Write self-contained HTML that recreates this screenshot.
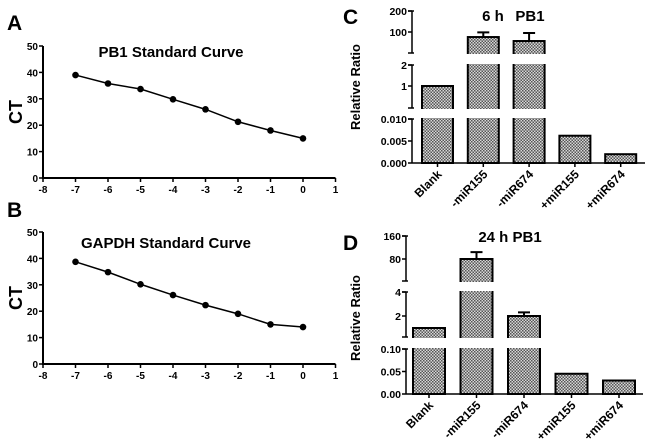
<!DOCTYPE html>
<html><head><meta charset="utf-8"><style>
html,body{margin:0;padding:0;background:#fff}
svg{display:block;font-family:"Liberation Sans",Arial,sans-serif}
</style></head><body>
<svg id="fig" width="650" height="447" viewBox="0 0 650 447" xmlns="http://www.w3.org/2000/svg">
<defs>
<pattern id="hatch" width="3" height="3" patternUnits="userSpaceOnUse">
<rect width="3" height="3" fill="#d8d8d8"/>
<rect width="1.5" height="1.5" fill="#555"/>
<rect x="1.5" y="1.5" width="1.5" height="1.5" fill="#555"/>
</pattern>
</defs>
<text x="7" y="30" font-size="21" font-weight="bold">A</text>
<text x="7" y="217" font-size="21" font-weight="bold">B</text>
<text x="343" y="24" font-size="21" font-weight="bold">C</text>
<text x="343" y="250" font-size="21" font-weight="bold">D</text>
<g id="pa"></g>
<g id="pb"></g>
<g id="pc"></g>
<g id="pd"></g>
</svg>
<script>
const xCats = [-7,-6,-5,-4,-3,-2,-1,0];
const ctPB1 = [39,35.8,33.7,29.8,26,21.3,18,15];
const ctGAPDH = [38.7,34.8,30.2,26.1,22.3,19,15,14];
const xTicks = [-8,-7,-6,-5,-4,-3,-2,-1,0,1];
const yTicks = [0,10,20,30,40,50];
const barCats = ["Blank","-miR155","-miR674","+miR155","+miR674"];
const ratio6h = [1,76,57,0.0062,0.002];
const err6h = [0,98,95,0,0];
const ratio24h = [1,80,2,0.045,0.03];
const err24h = [0,104,2.3,0,0];
const ticks6h = [[0,0.005,0.010],[1,2],[100,200]];
const tickLabels6h = [["0.000","0.005","0.010"],["1","2"],["100","200"]];
const ticks24h = [[0,0.05,0.10],[2,4],[80,160]];
const tickLabels24h = [["0.00","0.05","0.10"],["2","4"],["80","160"]];
const NS="http://www.w3.org/2000/svg";
function mk(p,tag,a){const e=document.createElementNS(NS,tag);for(const k in a)e.setAttribute(k,a[k]);p.appendChild(e);return e;}
function lineChart(g,vals,title,y0,y50,tx,ty){
  const X=v=>43+(v+8)*32.5, Y=v=>y0+(y50-y0)*v/50;
  let e=mk(g,'line',{x1:43,y1:y50,x2:43,y2:y0+1,stroke:'#000','stroke-width':2});
  
  
  e=mk(g,'line',{x1:42,y1:y0,x2:X(1),y2:y0,stroke:'#000','stroke-width':2});
  
  
  yTicks.forEach(t=>{mk(g,'line',{x1:39,y1:Y(t),x2:43,y2:Y(t),stroke:'#000','stroke-width':1.5});
    e=mk(g,'text',{x:38,y:Y(t)+4,'font-size':10,'font-weight':'bold','text-anchor':'end'});e.textContent=t;
    
    });
  xTicks.forEach(t=>{mk(g,'line',{x1:X(t),y1:y0,x2:X(t),y2:y0+4,stroke:'#000','stroke-width':1.5});
    e=mk(g,'text',{x:X(t),y:y0+15,'font-size':10,'font-weight':'bold','text-anchor':'middle'});e.textContent=t;
    
    });
  e=mk(g,'polyline',{points:xCats.map((c,i)=>X(c)+','+Y(vals[i])).join(' '),fill:'none',stroke:'#000','stroke-width':1.5});
  
  
  xCats.forEach((c,i)=>{e=mk(g,'circle',{cx:X(c),cy:Y(vals[i]),r:3.3,fill:'#000'});
    
    });
  e=mk(g,'text',{x:tx,y:ty,'font-size':15,'font-weight':'bold','text-anchor':'middle'});e.textContent=title;
  
  
  e=mk(g,'text',{x:0,y:0,'font-size':18,'font-weight':'bold','text-anchor':'middle',transform:`translate(22,${(y0+y50)/2}) rotate(-90)`});e.textContent='CT';
  
  
}
lineChart(document.getElementById('pa'),ctPB1,'PB1 Standard Curve',178,46,171,57);
lineChart(document.getElementById('pb'),ctGAPDH,'GAPDH Standard Curve',364,232,166,248);

function barChart(g,vals,errs,segs,ticks,labels,ax,x1,bx0,pitch,bw,titles,ylab){
  const base=segs[0].yb;
  function Y(v){for(const s of segs){if(v<=s.hi)return s.y0-v*s.k;}const s=segs[segs.length-1];return s.y0-v*s.k;}
  vals.forEach((v,i)=>{const x=bx0+i*pitch;
    let e=mk(g,'rect',{x:x,y:Y(v),width:bw,height:base-Y(v),fill:'url(#hatch)',stroke:'#000','stroke-width':2});
    
    
    if(errs[i]>v){const ey=Y(errs[i]);
      e=mk(g,'path',{d:`M${x+bw/2},${Y(v)}V${ey}M${x+bw/2-6},${ey}H${x+bw/2+6}`,stroke:'#000','stroke-width':2,fill:'none'});
      
      }
  });
  for(let i=0;i<segs.length-1;i++){mk(g,'rect',{x:ax+2,y:segs[i+1].yb+1,width:x1-ax,height:segs[i].yt-segs[i+1].yb-2,fill:'#fff'});}
  segs.forEach((s,si)=>{
    let e=mk(g,'line',{x1:ax,y1:s.yt,x2:ax,y2:s.yb,stroke:'#000','stroke-width':1.5});
    
    
    if(si>0)mk(g,'line',{x1:ax-4,y1:s.yb,x2:ax+2,y2:s.yb,stroke:'#000','stroke-width':1.5});
    mk(g,'line',{x1:ax-4,y1:s.yt,x2:ax+2,y2:s.yt,stroke:'#000','stroke-width':1.5});
    ticks[si].forEach((t,j)=>{const y=s.y0-t*s.k;mk(g,'line',{x1:ax-4,y1:y,x2:ax,y2:y,stroke:'#000','stroke-width':1.5});
      e=mk(g,'text',{x:ax-5,y:y+4,'font-size':10.5,'font-weight':'bold','text-anchor':'end'});e.textContent=labels[si][j];
      
      });
  });
  let e=mk(g,'line',{x1:ax,y1:base,x2:x1,y2:base,stroke:'#000','stroke-width':1.5});
  
  
  barCats.forEach((c,i)=>{const cx=bx0+i*pitch+bw/2;
    mk(g,'line',{x1:cx,y1:base,x2:cx,y2:base+4,stroke:'#000','stroke-width':1.5});
    e=mk(g,'text',{x:0,y:0,'font-size':12,'font-weight':'bold','text-anchor':'end',transform:`translate(${cx+5},${base+12}) rotate(-45)`});e.textContent=c;
    
    });
  titles.forEach(t=>{e=mk(g,'text',{x:t[1],y:t[2],'font-size':15,'font-weight':'bold','text-anchor':'middle'});e.textContent=t[0];
    
    });
  e=mk(g,'text',{x:0,y:0,'font-size':13,'font-weight':'bold','text-anchor':'middle',transform:`translate(${ylab[0]},${ylab[1]}) rotate(-90)`});e.textContent='Relative Ratio';
  
  
}
barChart(document.getElementById('pc'),ratio6h,err6h,
 [{yb:163,yt:119,y0:163,k:4400,hi:0.0105},{yb:108,yt:65,y0:107,k:21,hi:2.05},{yb:53,yt:11,y0:53,k:0.21,hi:1e9}],
 ticks6h,tickLabels6h,412,645,422,45.8,31,[['6 h',493,21],['PB1',530,21]],[360,87]);
barChart(document.getElementById('pd'),ratio24h,err24h,
 [{yb:394,yt:349,y0:394,k:450,hi:0.105},{yb:337,yt:292,y0:340,k:12,hi:4.1},{yb:281,yt:236,y0:282,k:0.2875,hi:1e9}],
 ticks24h,tickLabels24h,406,643,413,47.5,32,[['24 h PB1',510,242]],[360,318]);
</script>
</body></html>
